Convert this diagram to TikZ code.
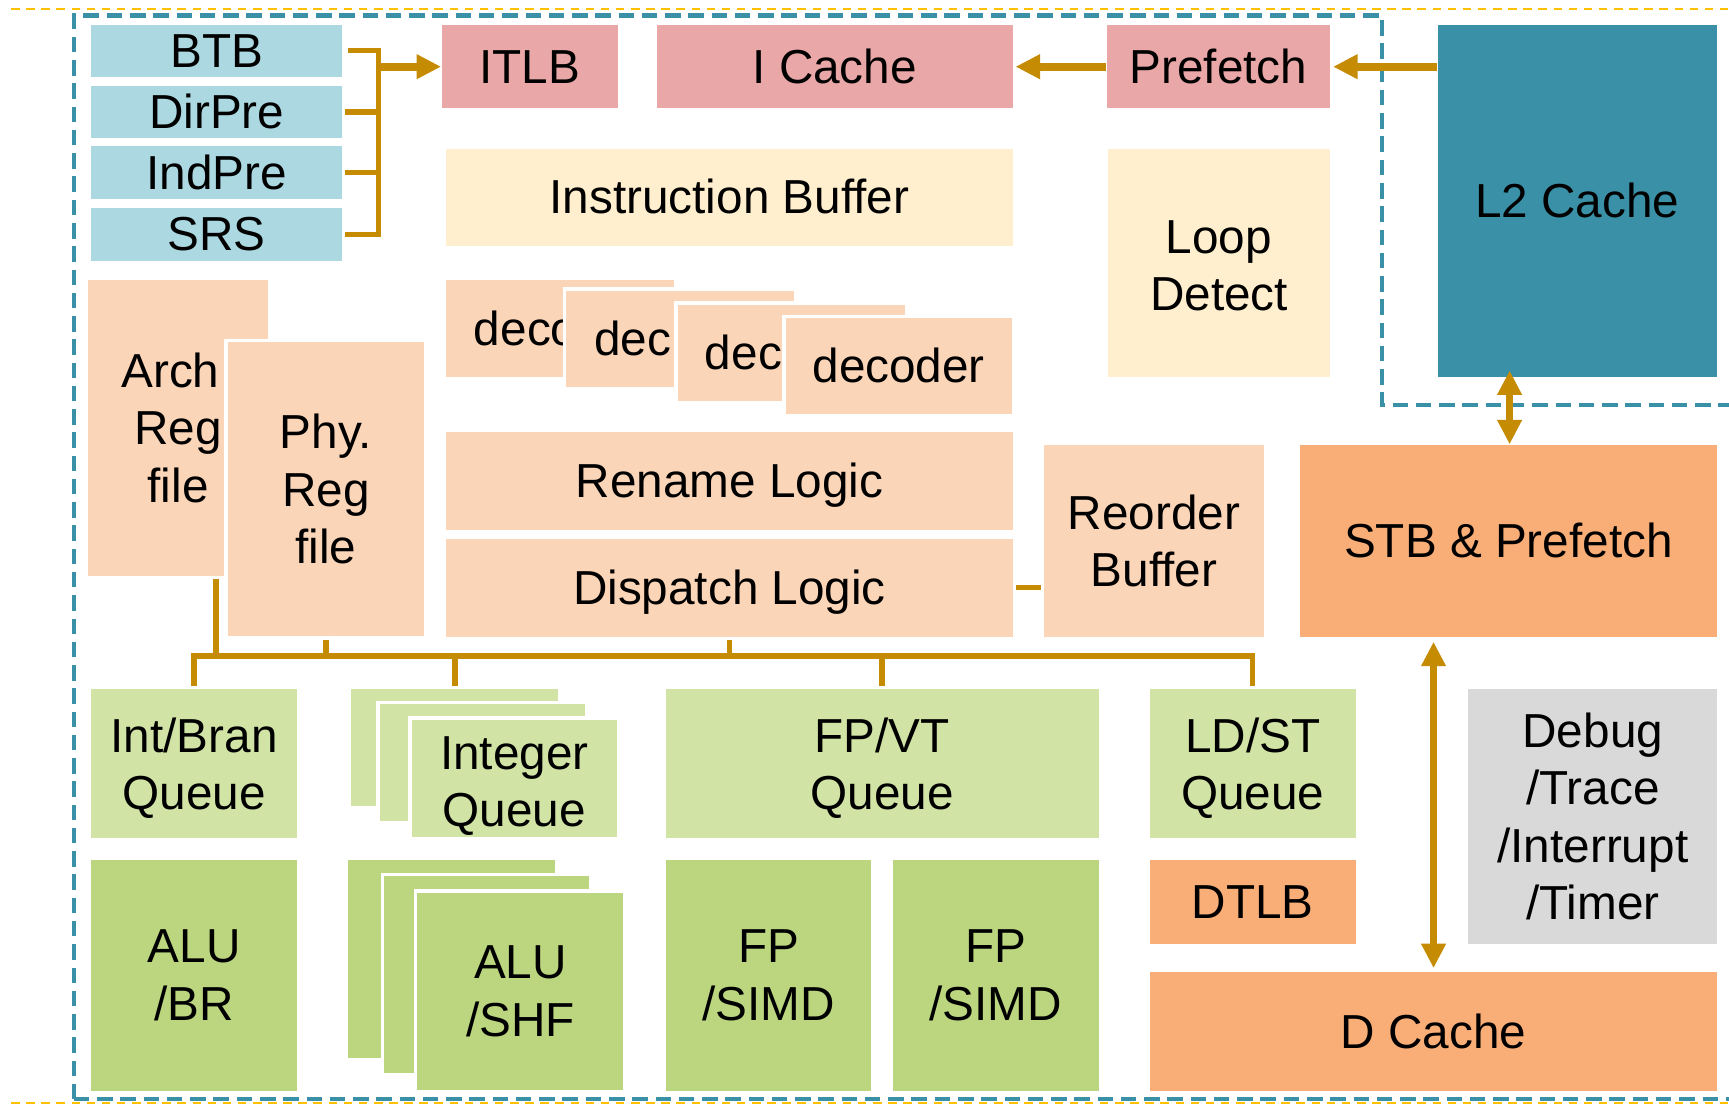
\documentclass[tikz,border=0pt]{standalone}
\usepackage{fontspec}
\setmainfont{Liberation Sans}
\usetikzlibrary{arrows.meta,calc}

\definecolor{predblue}{HTML}{ABD8E1}
\definecolor{fetchpink}{HTML}{EAA7A8}
\definecolor{bufcream}{HTML}{FFEFCE}
\definecolor{peach}{HTML}{FBD5B8}
\definecolor{memorange}{HTML}{F9AE77}
\definecolor{lteal}{HTML}{3A91A7}
\definecolor{qgreen}{HTML}{D1E4A6}
\definecolor{exgreen}{HTML}{BBD67E}
\definecolor{dbggray}{HTML}{D9D9D9}
\definecolor{wire}{HTML}{C48B03}
\definecolor{outeryellow}{HTML}{FFC000}

% fixed line ascent/descent so single-line labels are centred the same way
\newcommand\linestrut{\rule[-0.212em]{0pt}{1.117em}}
% extra head room on the first line of a multi-line label
\newcommand\headroom[1]{\rule{0pt}{#1em}}

% block: name, x1, y1, x2, y2, style, text  (pixel-like units, y grows downward)
\newcommand\blk[7]{%
  \pgfmathsetmacro\blkw{(#4-#2)*0.01}%
  \pgfmathsetmacro\blkh{(#5-#3)*0.01}%
  \node[unit,#6,minimum width=\blkw cm,minimum height=\blkh cm] (#1)
    at ({(#2+#4)/2},{(#3+#5)/2}) {#7};}

\begin{document}
\begin{tikzpicture}[x=0.01cm,y=-0.01cm,
  unit/.style={draw=white,line width=0.4pt,inner sep=0pt,outer sep=0pt,
    align=center,font=\fontsize{12.3}{14.8}\selectfont},
  one/.style={execute at begin node=\linestrut},
  layer/.style={draw=white,line width=0.9pt},
  link/.style={draw=wire,line width=1.4pt},
  arr/.style={draw=wire,line width=2pt,-{Triangle[width=6pt,length=6.3pt]}},
  darr/.style={draw=wire,line width=2pt,{Triangle[width=6pt,length=6.3pt]}-{Triangle[width=6pt,length=6.3pt]}},
  coreframe/.style={draw=lteal,line width=1.1pt,dash pattern=on 4pt off 2pt},
  chipframe/.style={draw=outeryellow,line width=0.45pt,dash pattern=on 2.2pt off 1.7pt}]
\useasboundingbox (0,0) rectangle (1568,1001);

% frames
\draw[chipframe] (10,8) -- (1568,8);
\draw[chipframe] (10,1000) -- (1568,1000);
\draw[coreframe] (67,997) -- (67,14) -- (1253,14) -- (1253,367) -- (1568,367);
\draw[coreframe] (67,997) -- (1568,997);

% branch prediction
\blk{BTB}{82}{22}{311}{70}{one,fill=predblue}{BTB}
\blk{DirPre}{82}{77}{311}{126}{one,fill=predblue}{DirPre}
\blk{IndPre}{82}{132}{311}{181}{one,fill=predblue}{IndPre}
\blk{SRS}{82}{188}{311}{237}{one,fill=predblue}{SRS}

% fetch
\blk{ITLB}{400}{22}{561}{99}{one,fill=fetchpink}{ITLB}
\blk{ICache}{595}{22}{919}{99}{one,fill=fetchpink}{I Cache}
\blk{Prefetch}{1003}{22}{1207}{99}{one,fill=fetchpink}{Prefetch}
\blk{L2}{1303}{22}{1558}{343}{one,fill=lteal}{L2 Cache}
\blk{IBuf}{404}{134}{919}{224}{one,fill=bufcream}{Instruction Buffer}
\blk{Loop}{1004}{134}{1207}{343}{fill=bufcream}{\headroom{0.82}Loop\\Detect}

% register files
\blk{Arch}{79}{253}{244}{523}{fill=peach}{Arch\rule{0.14cm}{0pt}\\Reg\\file}
\blk{Phy}{205}{309}{386}{578}{fill=peach,layer}{Phy.\\Reg\\file}

% decoders, each one partly hidden by the next
\blk{DecA}{404}{253}{612}{343}{one,fill=peach}{\rlap{deco}\phantom{decoder}}
\blk{DecB}{512}{262}{722}{353}{one,fill=peach,layer}{\rlap{dec}\phantom{decoder}}
\blk{DecC}{613}{275}{822}{365}{one,fill=peach,layer}{\rlap{dec}\phantom{decoder}}
\blk{DecD}{711}{287}{919}{377}{one,fill=peach,layer}{decoder}

\blk{Rename}{404}{391}{919}{481}{one,fill=peach}{Rename Logic}
\blk{Dispatch}{404}{488}{919}{578}{one,fill=peach}{Dispatch Logic}
\blk{ROB}{946}{403}{1147}{578}{fill=peach}{Reorder\\Buffer}
\blk{STB}{1178}{403}{1558}{578}{one,fill=memorange}{STB \& Prefetch}

% issue queues
\blk{IntBran}{82}{624}{270}{761}{fill=qgreen}{\headroom{0.92}Int/Bran\\Queue}
\blk{IQa}{318}{624}{507}{732}{fill=qgreen}{}
\blk{IQb}{343}{637}{532}{746}{fill=qgreen,layer}{}
\blk{IQc}{372}{651}{561}{761}{fill=qgreen,layer}{\headroom{1.0}Integer\\Queue}
\blk{FPVT}{603}{624}{997}{761}{fill=qgreen}{\headroom{0.92}FP/VT\\Queue}
\blk{LDST}{1042}{624}{1230}{761}{fill=qgreen}{\headroom{0.92}LD/ST\\Queue}
\blk{Debug}{1331}{624}{1558}{857}{fill=dbggray}{Debug\\/Trace\\/Interrupt\\/Timer}

% execution units
\blk{ALUBR}{82}{779}{270}{990}{fill=exgreen}{ALU\\/BR}
\blk{ASa}{315}{779}{504}{960}{fill=exgreen}{}
\blk{ASb}{347}{793}{536}{975}{fill=exgreen,layer}{}
\blk{ASc}{377}{808}{567}{990}{fill=exgreen,layer}{ALU\\/SHF}
\blk{FPSa}{603}{779}{791}{990}{fill=exgreen}{FP\\/SIMD}
\blk{FPSb}{809}{779}{997}{990}{fill=exgreen}{FP\\/SIMD}
\blk{DTLB}{1042}{779}{1230}{857}{one,fill=memorange}{DTLB}
\blk{DCache}{1042}{881}{1558}{990}{one,fill=memorange}{D Cache}

% predictor bracket into ITLB
\coordinate (brk) at (343,0);
\draw[link] ([xshift=0.05cm]BTB.east) -- (BTB.east -| brk) -- (SRS.east -| brk) -- ([xshift=0.02cm]SRS.east);
\draw[link] ([xshift=0.02cm]DirPre.east) -- (DirPre.east -| brk);
\draw[link] ([xshift=0.02cm]IndPre.east) -- (IndPre.east -| brk);
\draw[arr] (ITLB.west -| brk) -- (ITLB.west);

% fetch path
\draw[arr] (Prefetch.west) -- ([xshift=0.02cm]ICache.east);
\draw[arr] (L2.west |- Prefetch.west) -- ([xshift=0.02cm]Prefetch.east);

% memory side
\draw[darr] ([xshift=0.66cm,yshift=0.07cm]L2.south west) -- ([xshift=0.66cm]L2.south west |- STB.north);
\draw[darr] ([xshift=1.22cm,yshift=-0.04cm]STB.south west) -- ([xshift=1.22cm,yshift=0.03cm]STB.south west |- DCache.north);

% dispatch to reorder buffer
\draw[link] ([xshift=0.02cm]Dispatch.east) -- ([xshift=-0.02cm]Dispatch.east -| ROB.west);

% issue bus
\coordinate (bus) at (0,595);
\draw[link] ([yshift=0.02cm]IntBran.north) -- (IntBran.north |- bus) -- (LDST.north |- bus) -- ([yshift=0.02cm]LDST.north);
\draw[link] ([yshift=0.02cm]IQa.north) -- (IQa.north |- bus);
\draw[link] ([yshift=0.02cm]FPVT.north) -- (FPVT.north |- bus);
\draw[link] ([xshift=0.345cm,yshift=-0.02cm]Arch.south) -- ([xshift=0.345cm]Arch.south |- bus);
\draw[link] ([yshift=-0.02cm]Phy.south) -- (Phy.south |- bus);
\draw[link] ([yshift=-0.02cm]Dispatch.south) -- (Dispatch.south |- bus);
\end{tikzpicture}
\end{document}
